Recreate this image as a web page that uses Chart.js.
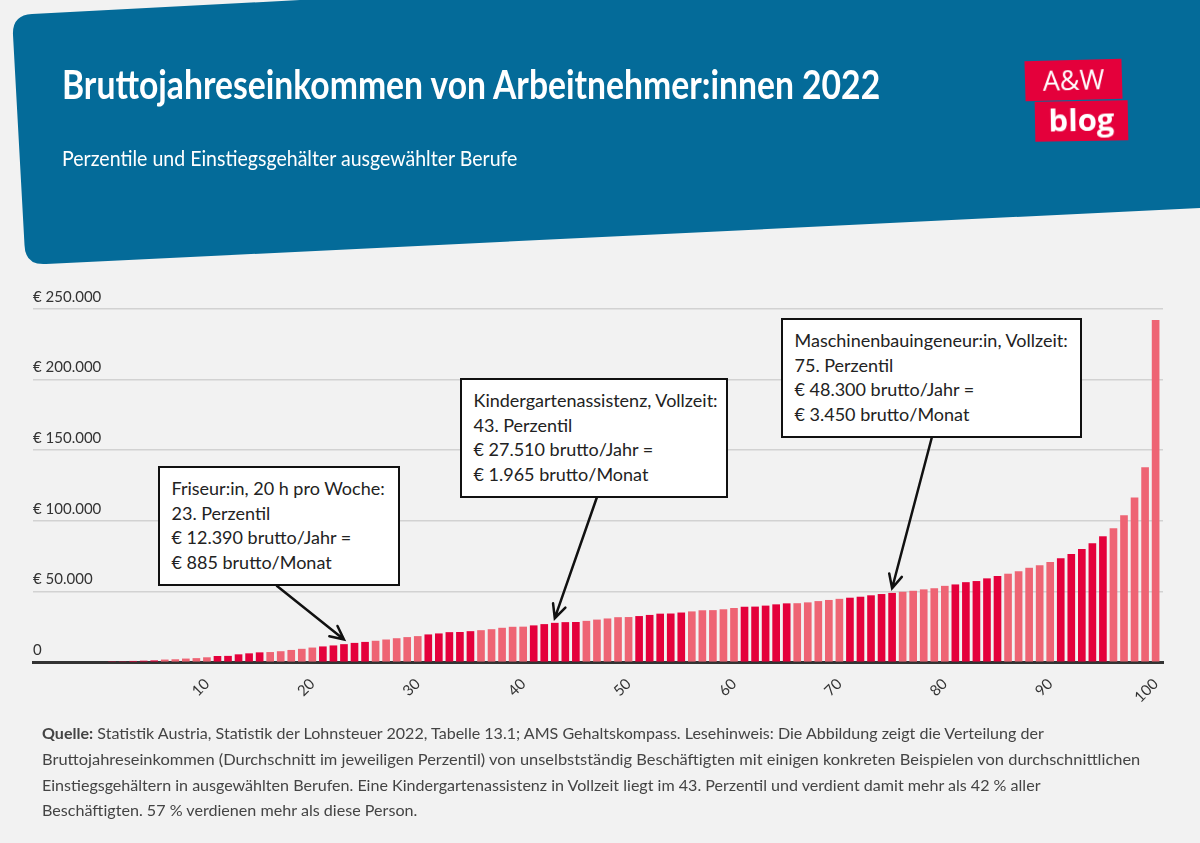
<!DOCTYPE html>
<html lang="de">
<head>
<meta charset="utf-8">
<title>Bruttojahreseinkommen von Arbeitnehmer:innen 2022</title>
<script src="https://cdn.jsdelivr.net/npm/chart.js@4.4.1/dist/chart.umd.min.js"></script>
<style>
  html, body { margin: 0; padding: 0; }
  body {
    width: 1200px; height: 843px; position: relative; overflow: hidden;
    background: #f2f2f2; font-family: Lato, "Open Sans", sans-serif; color: #333;
  }
  #header { position: absolute; left: 0; top: 0; z-index: 1; }
  .fit { position: absolute; white-space: nowrap; transform-origin: 0 0; }
  #title { left: 62px; top: 60px; font-size: 40px; line-height: 48px; font-weight: 700; color: #fff; z-index: 4; }
  #subtitle { left: 62px; top: 144px; font-size: 22px; line-height: 28px; font-weight: 400; color: #fff; z-index: 4; }
  .logo {
    position: absolute; z-index: 4; background: #e4003b; color: #fff;
    text-align: center; box-sizing: border-box; font-family: "Open Sans", Lato, sans-serif;
  }
  #logo-aw { left: 1025px; top: 60px; width: 97px; height: 40px; font-size: 27px; line-height: 40px; transform: rotate(-1.6deg); }
  #logo-blog { left: 1035px; top: 101px; width: 93px; height: 40px; font-size: 31px; line-height: 36px; font-weight: 700; transform: rotate(-1deg); }
  #chart { position: absolute; left: 0; top: 0; z-index: 2; }
  .note {
    position: absolute; z-index: 3; background: #fff; border: 2.5px solid #111;
    box-sizing: border-box; padding: 8px 0 0 11.5px; height: 120px;
    font-size: 18px; line-height: 24.5px; color: #222; white-space: nowrap;
  }
  .foot { left: 42px; font-size: 15px; line-height: 20px; color: #444; z-index: 4; }
  .foot b { font-weight: 700; }
</style>
</head>
<body>

<svg id="header" width="1200" height="300">
  <path d="M 32 14 L 300 0 L 1201 -1 L 1201 208 L 46 264 Q 25 265.5 24.5 245 L 13 35 Q 12 15 32 14 Z" fill="#046b99"/>
</svg>

<div id="title" class="fit" data-w="818">Bruttojahreseinkommen von Arbeitnehmer:innen 2022</div>
<div id="subtitle" class="fit" data-w="455">Perzentile und Einstiegsgehälter ausgewählter Berufe</div>
<div id="logo-aw" class="logo">A&amp;W</div>
<div id="logo-blog" class="logo">blog</div>

<canvas id="chart" width="1200" height="843"></canvas>

<div class="note" style="left:158px; top:466px; width:242px;">Friseur:in, 20 h pro Woche:<br>23. Perzentil<br>€ 12.390 brutto/Jahr =<br>€ 885 brutto/Monat</div>
<div class="note" style="left:460px; top:378px; width:268px;">Kindergartenassistenz, Vollzeit:<br>43. Perzentil<br>€ 27.510 brutto/Jahr =<br>€ 1.965 brutto/Monat</div>
<div class="note" style="left:781px; top:318px; width:301px;">Maschinenbauingeneur:in, Vollzeit:<br>75. Perzentil<br>€ 48.300 brutto/Jahr =<br>€ 3.450 brutto/Monat</div>

<div class="foot fit" style="top:723px;" data-w="1002"><b>Quelle:</b> Statistik Austria, Statistik der Lohnsteuer 2022, Tabelle 13.1; AMS Gehaltskompass. Lesehinweis: Die Abbildung zeigt die Verteilung der</div>
<div class="foot fit" style="top:749px;" data-w="1098">Bruttojahreseinkommen (Durchschnitt im jeweiligen Perzentil) von unselbstständig Beschäftigten mit einigen konkreten Beispielen von durchschnittlichen</div>
<div class="foot fit" style="top:775px;" data-w="998">Einstiegsgehältern in ausgewählten Berufen. Eine Kindergartenassistenz in Vollzeit liegt im 43. Perzentil und verdient damit mehr als 42 % aller</div>
<div class="foot fit" style="top:800px;" data-w="375">Beschäftigten. 57 % verdienen mehr als diese Person.</div>

<script>
  // Percentiles 1..100 (category index)
  const percentiles = Array.from({ length: 100 }, (_, i) => i + 1);

  // Gross annual income per percentile, EUR
  const income = [
    0, 0, 500, 700, 900, 1500, 1700, 2200, 2500, 3100,
    4000, 4100, 5200, 5900, 6600, 6800, 7400, 8300, 9100, 10000,
    10800, 11500, 12400, 13300, 14000, 14800, 15700, 16600, 17400, 18100,
    19300, 20000, 20900, 21000, 21600, 22300, 23000, 24000, 24700, 24800,
    25700, 26600, 27500, 28000, 28100, 28900, 29800, 30600, 31500, 31600,
    32300, 33100, 34000, 34100, 34800, 35600, 36400, 36500, 37100, 38000,
    38900, 39000, 39700, 40600, 41300, 41400, 42000, 42900, 43700, 44500,
    45300, 46000, 47000, 47900, 48700, 49500, 50200, 51200, 52000, 53700,
    54700, 56300, 57100, 59000, 60600, 62300, 64000, 66500, 68200, 70600,
    73200, 76200, 79800, 83800, 88800, 94500, 103700, 116200, 137700, 242000
  ];

  const xTickLabels = [10, 20, 30, 40, 50, 60, 70, 80, 90, 100];
  const yTickValues = [0, 50000, 100000, 150000, 200000, 250000];

  // annotated percentiles and where their arrows leave the boxes
  const notePercentiles = [23, 43, 75];
  const noteArrowStart = [[277, 586], [597, 497], [933, 433]];

  const DARK = "#e4003b";
  const LIGHT = "#ee6474";

  function formatEuro(v) {
    if (v === 0) return "0";
    return "€ " + String(v).replace(/\B(?=(\d{3})+(?!\d))/g, ".");
  }

  // stretch/condense a text line to the width it has in the original
  function fitLines() {
    document.querySelectorAll(".fit").forEach((el) => {
      const target = parseFloat(el.dataset.w);
      const natural = el.scrollWidth;
      if (natural > 0) el.style.transform = "scaleX(" + (target / natural) + ")";
    });
  }
  fitLines();
  if (document.fonts) document.fonts.ready.then(fitLines);

  const arrowPlugin = {
    id: "noteArrows",
    afterDatasetsDraw(chart) {
      const { ctx } = chart;
      const xs = chart.scales.x;
      const ys = chart.scales.y;
      ctx.save();
      ctx.strokeStyle = "#111";
      ctx.lineWidth = 2.5;
      ctx.lineCap = "round";
      notePercentiles.forEach((p, i) => {
        const tx = xs.getPixelForValue(p);
        const ty = ys.getPixelForValue(income[p - 1]) - 5;
        const [sx, sy] = noteArrowStart[i];
        const a = Math.atan2(ty - sy, tx - sx);
        const head = 15;
        ctx.beginPath();
        ctx.moveTo(sx, sy);
        ctx.lineTo(tx, ty);
        ctx.moveTo(tx - head * Math.cos(a - 0.45), ty - head * Math.sin(a - 0.45));
        ctx.lineTo(tx, ty);
        ctx.lineTo(tx - head * Math.cos(a + 0.45), ty - head * Math.sin(a + 0.45));
        ctx.stroke();
      });
      ctx.restore();
    }
  };

  const barColors = percentiles.map((p) => (Math.floor((p - 1) / 5) % 2 === 0 ? DARK : LIGHT));

  new Chart(document.getElementById("chart"), {
    type: "bar",
    data: {
      datasets: [{
        data: percentiles.map((p, i) => ({ x: p, y: income[i] })),
        backgroundColor: barColors,
        barThickness: 7,
        borderWidth: 0
      }]
    },
    options: {
      responsive: false,
      animation: false,
      devicePixelRatio: 1,
      layout: { padding: { left: 33, right: 37, top: 309, bottom: 141 } },
      plugins: { legend: { display: false }, tooltip: { enabled: false } },
      scales: {
        x: {
          type: "linear",
          offset: false,
          min: -6.5,
          max: 100.7,
          grid: { display: false, offset: false },
          border: { display: true, color: "#333", width: 3 },
          afterBuildTicks: (scale) => {
            scale.ticks = xTickLabels.map((v) => ({ value: v }));
          },
          afterFit: (scale) => { scale.height = 40; },
          ticks: {
            autoSkip: false,
            minRotation: 45,
            maxRotation: 45,
            padding: 5,
            color: "#333",
            font: { family: "Lato", size: 15 },
            callback: (v) => String(v)
          }
        },
        y: {
          min: 0,
          max: 250000,
          afterBuildTicks: (scale) => {
            scale.ticks = yTickValues.map((v) => ({ value: v }));
          },
          afterFit: (scale) => { scale.width = 0; },
          grid: { color: "#d2d2d2", lineWidth: 1.5, drawTicks: false },
          border: { display: false },
          ticks: {
            mirror: true,
            padding: 0,
            labelOffset: -12,
            color: "#333",
            font: { family: "Lato", size: 15 },
            callback: (v) => formatEuro(v)
          }
        }
      }
    },
    plugins: [arrowPlugin]
  });
</script>
</body>
</html>
